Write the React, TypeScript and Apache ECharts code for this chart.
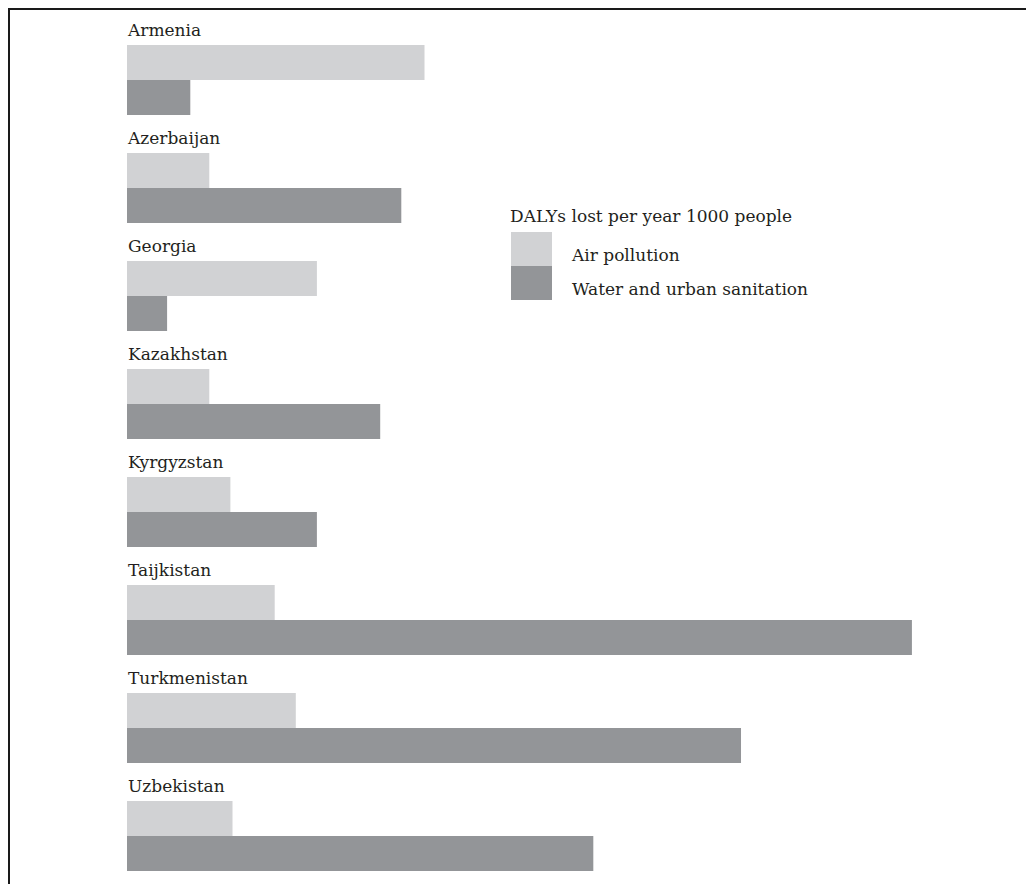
import React, { useEffect, useRef } from "react";
import * as echarts from "echarts";

const countries = [
  "Armenia",
  "Azerbaijan",
  "Georgia",
  "Kazakhstan",
  "Kyrgyzstan",
  "Taijkistan",
  "Turkmenistan",
  "Uzbekistan",
];
const airPollution = [14.1, 3.9, 9, 3.9, 4.9, 7, 8, 5];
const waterSanitation = [3, 13, 1.9, 12, 9, 37.2, 29.1, 22.1];
const seriesNames = ["Air pollution", "Water and urban sanitation"];
const legendTitle = "DALYs lost per year 1000 people";

const FONT = "'DejaVu Serif', 'Liberation Serif', serif";
const TEXT = "#231f20";

export default function App() {
  const ref = useRef<HTMLDivElement>(null);
  useEffect(() => {
    if (!ref.current) return;
    const chart = echarts.init(ref.current, null, { renderer: "svg" });
    chart.setOption({
      animation: false,
      backgroundColor: "#ffffff",
      title: {
        text: legendTitle,
        left: 500,
        top: 197,
        padding: 0,
        textStyle: { fontFamily: FONT, fontSize: 17, fontWeight: "normal", color: TEXT },
      },
      legend: {
        orient: "vertical",
        left: 501,
        top: 222,
        padding: 0,
        itemGap: 0,
        itemWidth: 41,
        itemHeight: 34,
        icon: "rect",
        selectedMode: false,
        formatter: (name: string) => `{t|${name}}`,
        textStyle: {
          fontFamily: FONT,
          fontSize: 17,
          color: TEXT,
          rich: {
            t: {
              fontFamily: FONT,
              fontSize: 17,
              color: TEXT,
              padding: [11, 0, 0, 15],
            },
          },
        },
        data: seriesNames,
      },
      grid: { left: 117, top: 16, width: 844, height: 864, containLabel: false },
      xAxis: {
        type: "value",
        min: 0,
        max: 40,
        show: false,
      },
      yAxis: {
        type: "category",
        data: countries,
        inverse: true,
        show: false,
      },
      series: [
        {
          name: seriesNames[0],
          type: "bar",
          data: airPollution,
          barWidth: 35,
          barGap: "0%",
          itemStyle: { color: "#d1d2d4" },
          label: {
            show: true,
            formatter: "{b}",
            position: [1, -15],
            align: "left",
            verticalAlign: "middle",
            fontFamily: FONT,
            fontSize: 17,
            color: TEXT,
          },
        },
        {
          name: seriesNames[1],
          type: "bar",
          data: waterSanitation,
          barWidth: 35,
          barGap: "0%",
          itemStyle: { color: "#939598" },
        },
      ],
    });
    return () => chart.dispose();
  }, []);
  return (
    <div
      style={{
        width: 1026,
        height: 876,
        boxSizing: "border-box",
        borderLeft: "2px solid #1a1a1a",
        borderTop: "2px solid #1a1a1a",
        background: "#fff",
        overflow: "hidden",
      }}
    >
      <div ref={ref} style={{ width: 1024, height: 900 }} />
    </div>
  );
}
